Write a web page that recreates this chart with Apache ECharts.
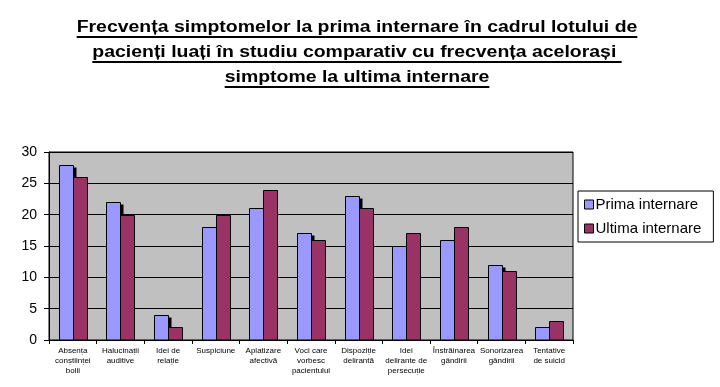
<!DOCTYPE html>
<html><head><meta charset="utf-8">
<script src="https://cdn.jsdelivr.net/npm/echarts@6/dist/echarts.min.js"></script>
<style>html,body{margin:0;padding:0;background:#fff}#c{width:720px;height:387px}</style>
</head><body><div id="c"></div>
<script>
const titleLines = [
  'Frecvența simptomelor la prima internare în cadrul lotului de',
  'pacienți luați în studiu comparativ cu frecvența acelorași ',
  'simptome la ultima internare'
];
const categories = [
  'Absența\nconștiinței\nbolii',
  'Halucinații\nauditive',
  'Idei de\nrelație',
  'Suspiciune',
  'Aplatizare\nafectivă',
  'Voci care\nvorbesc\npacientului',
  'Dispoziție\ndelirantă',
  'Idei\ndelirante de\npersecuție',
  'Înstrăinarea\ngândirii',
  'Sonorizarea\ngândirii',
  'Tentative\nde suicid'
];
const seriesNames = ['Prima internare', 'Ultima internare'];
const primaValues = [28, 22, 4, 18, 21, 17, 23, 15, 16, 12, 2];
const ultimaValues = [26, 20, 2, 20, 24, 16, 21, 17, 18, 11, 3];

const chart = echarts.init(document.getElementById('c'), null, {renderer: 'canvas'});
const font = 'Arial, "Liberation Sans", sans-serif';
const tfont = 'bold 16px ' + font;
const cv = document.createElement('canvas').getContext('2d');
cv.font = tfont;
const sx = 1.215;
const cx = 357, baselines = [34, 59, 84];
const graphics = [];
titleLines.forEach((t, i) => {
  const w = cv.measureText(t).width * sx;
  graphics.push({type: 'text', x: cx, y: baselines[i] - 14, scaleX: sx,
    style: {text: t, x: 0, y: 0, font: tfont, fill: '#000', align: 'center', verticalAlign: 'top'}});
  graphics.push({type: 'line', shape: {x1: cx - w / 2, y1: baselines[i] + 3, x2: cx + w / 2, y2: baselines[i] + 3},
    style: {stroke: '#000', lineWidth: 2}});
});
const BW = 14;
function makeRender(color, side, shadow) {
  return function (params, api) {
    const top = api.coord([api.value(0), api.value(1)]);
    const base = api.coord([api.value(0), 0]);
    const x = Math.round(top[0]) + (side < 0 ? -BW : 0) + 0.5;
    const yt = Math.round(top[1]) + 0.5, yb = Math.round(base[1]);
    const children = [];
    if (shadow) {
      children.push({type: 'rect', shape: {x: x + 3, y: yt + 2, width: BW, height: Math.max(0, yb - yt - 2)},
        style: {fill: '#000'}});
    }
    children.push({type: 'rect', shape: {x: x, y: yt, width: BW, height: yb - yt},
      style: {fill: color, stroke: '#000', lineWidth: 1}});
    return {type: 'group', children: children};
  };
}
chart.setOption({
  backgroundColor: '#fff',
  animation: false,
  graphic: graphics,
  grid: {left: 49, right: 147, top: 152, bottom: 47, show: true, backgroundColor: '#C0C0C0', borderColor: '#000', borderWidth: 1},
  legend: {
    orient: 'vertical', left: 578, top: 191,
    data: seriesNames,
    borderColor: '#000', borderWidth: 1, padding: [6, 12, 6, 6],
    itemWidth: 9, itemHeight: 9, itemGap: 9,
    itemStyle: {borderColor: '#000', borderWidth: 1},
    textStyle: {fontFamily: font, fontSize: 15, color: '#000', padding: [0, 0, 0, -3]},
    icon: 'rect'
  },
  xAxis: {
    type: 'category', data: categories,
    axisLine: {lineStyle: {color: '#000', width: 1}},
    axisTick: {show: true, alignWithLabel: false, length: 4, lineStyle: {color: '#000'}},
    axisLabel: {interval: 0, fontFamily: font, fontSize: 8, color: '#000', lineHeight: 10, margin: 6}
  },
  yAxis: {
    type: 'value', min: 0, max: 30, interval: 5,
    axisLine: {show: true, lineStyle: {color: '#000'}},
    axisTick: {show: true, length: 5, lineStyle: {color: '#000'}},
    splitLine: {lineStyle: {color: '#000', width: 1}},
    axisLabel: {fontFamily: font, fontSize: 14, color: '#000', margin: 12}
  },
  series: [
    {name: seriesNames[0], type: 'custom', z: 2, itemStyle: {color: '#9999FF'},
     renderItem: makeRender('#9999FF', -1, true),
     encode: {x: 0, y: 1}, data: primaValues.map((v, i) => [i, v])},
    {name: seriesNames[1], type: 'custom', z: 3, itemStyle: {color: '#993366'},
     renderItem: makeRender('#993366', 1, false),
     encode: {x: 0, y: 1}, data: ultimaValues.map((v, i) => [i, v])}
  ]
});
</script></body></html>
